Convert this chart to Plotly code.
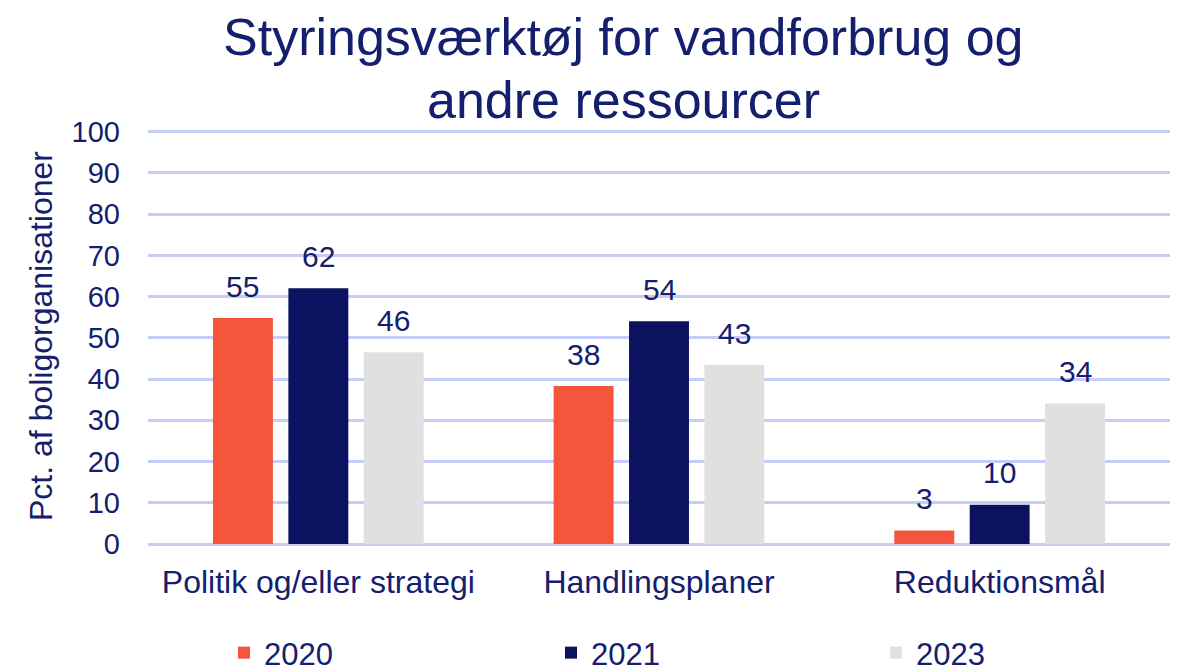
import plotly.graph_objects as go

categories = ["Politik og/eller strategi", "Handlingsplaner", "Reduktionsmål"]
years = ["2020", "2021", "2023"]
values_2020 = [54.8, 38.3, 3.3]
values_2021 = [62.0, 54.0, 9.5]
values_2023 = [46.5, 43.4, 34.1]
labels_2020 = ["55", "38", "3"]
labels_2021 = ["62", "54", "10"]
labels_2023 = ["46", "43", "34"]
y_ticks = [0, 10, 20, 30, 40, 50, 60, 70, 80, 90, 100]
title_lines = ["Styringsværktøj for vandforbrug og", "andre ressourcer"]
y_title = "Pct. af boligorganisationer"

colors = ["#F5553A", "#0B1260", "#E0E0E0"]
text_color = "#14206E"
font_family = "Liberation Sans, Arial, sans-serif"

# page body margin offsets the figure by 8px
OFF = 8
W, H = 1181 - OFF, 672 - OFF
plot_left, plot_right, plot_top, plot_bottom = 148, 1170, 130, 544  # screen px
ml, mr = plot_left - OFF, (W + OFF) - plot_right
mt, mb = plot_top - OFF, (H + OFF) - plot_bottom
pw, ph = W - ml - mr, H - mt - mb


def px_x(sx):
    return (sx - plot_left) / pw


def px_y(sy):
    return (plot_bottom - sy) / ph


bargap, bargroupgap = 0.336, 0.205
slot = pw / len(categories) * (1 - bargap) / len(years)

fig = go.Figure()
legend_ids = ["legend", "legend2", "legend3"]
series = [values_2020, values_2021, values_2023]
series_labels = [labels_2020, labels_2021, labels_2023]
annotations = []
for i, (yr, vals, labs, col, lg) in enumerate(zip(years, series, series_labels, colors, legend_ids)):
    fig.add_trace(go.Bar(
        name=yr, x=categories, y=vals, legend=lg, showlegend=True,
        marker=dict(color=col, line=dict(width=0)),
    ))
    for c, v, t in zip(categories, vals, labs):
        annotations.append(dict(
            x=c, y=v, xref="x", yref="y", text=t, showarrow=False,
            xanchor="center", yanchor="middle",
            xshift=(i - 1) * slot, yshift=32,
            font=dict(size=30, color=text_color),
        ))

for line, sy in zip(title_lines, [37, 100]):
    annotations.append(dict(
        text=line, xref="paper", yref="paper",
        x=px_x(623), y=px_y(sy),
        xanchor="center", yanchor="middle", showarrow=False,
        font=dict(size=52, color=text_color),
    ))

annotations.append(dict(
    text=y_title, textangle=-90,
    xref="paper", yref="paper", x=px_x(41), y=px_y(336),
    xanchor="center", yanchor="middle", showarrow=False,
    font=dict(size=32, color=text_color),
))

legend_x_screen = [224, 551, 876]
legend_cfg = {}
for lg, lx in zip(legend_ids, legend_x_screen):
    legend_cfg[lg] = dict(
        orientation="h", x=px_x(lx), xanchor="left",
        y=px_y(653), yanchor="middle",
        font=dict(size=31, color=text_color),
        itemwidth=30, bgcolor="rgba(0,0,0,0)", visible=True,
    )

fig.update_layout(
    width=W, height=H,
    margin=dict(l=ml, r=mr, t=mt, b=mb, autoexpand=False),
    paper_bgcolor="white", plot_bgcolor="white",
    font=dict(family=font_family, color=text_color),
    showlegend=True,
    barmode="group", bargap=bargap, bargroupgap=bargroupgap,
    xaxis=dict(
        showgrid=False, showline=False, zeroline=False,
        tickfont=dict(size=32, color=text_color),
        ticklabelstandoff=16, automargin=False,
    ),
    yaxis=dict(
        range=[0, 100.4], tickvals=y_ticks,
        showgrid=True, gridcolor="#C5CCF7", gridwidth=2.5,
        zeroline=True, zerolinecolor="#C5CCF7", zerolinewidth=2.5,
        showline=False,
        tickfont=dict(size=29, color=text_color),
        ticklabelstandoff=27, automargin=False,
    ),
    annotations=annotations,
    **legend_cfg,
)

fig.write_html("out.html")
